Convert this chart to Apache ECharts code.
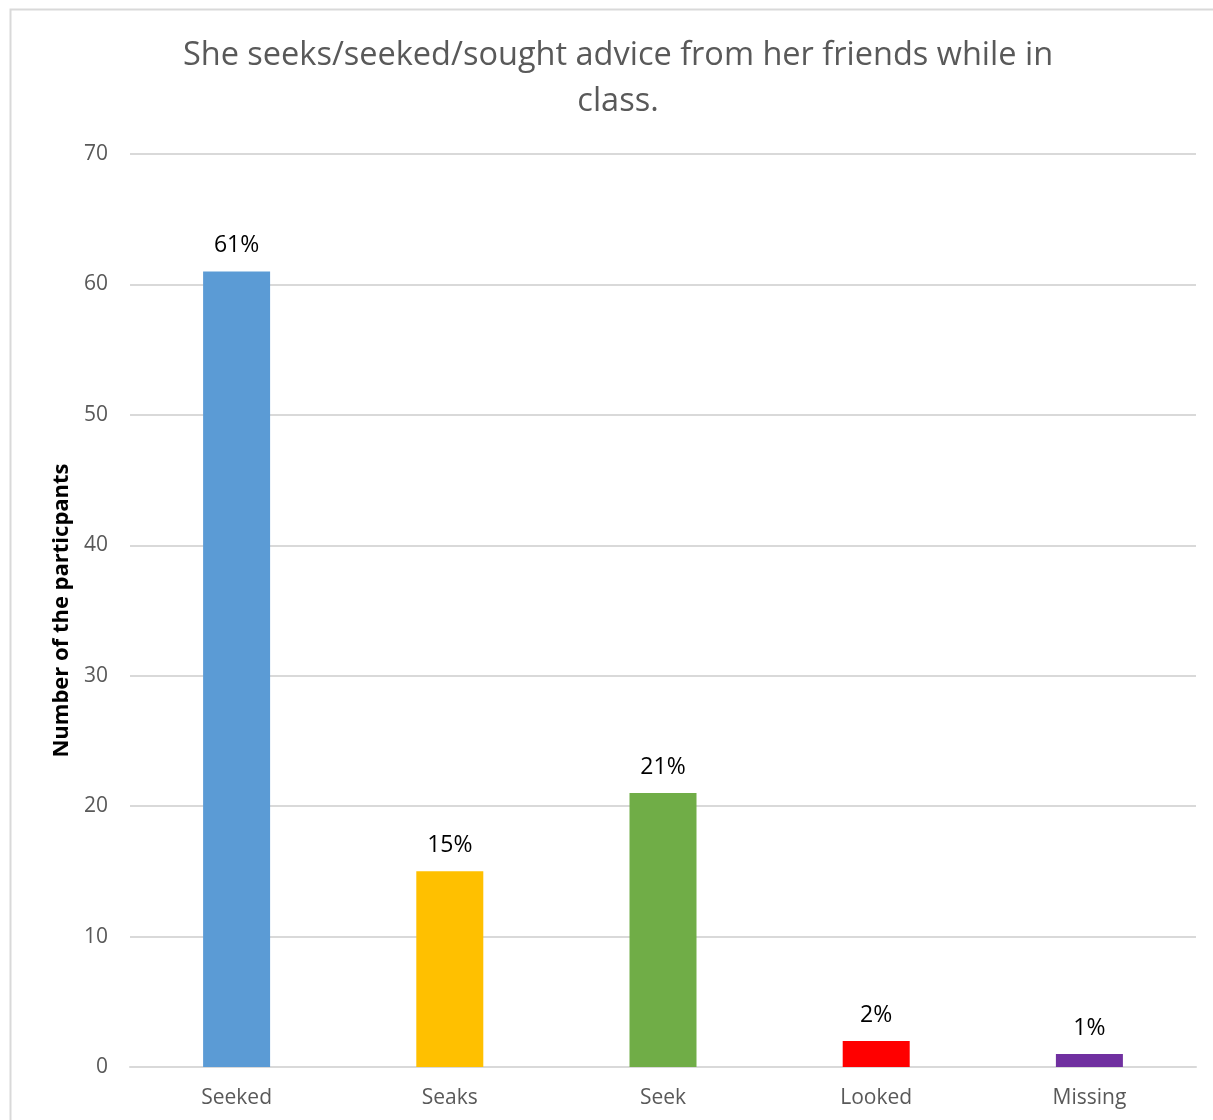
<!DOCTYPE html>
<html>
<head>
<meta charset="utf-8">
<script src="https://cdn.jsdelivr.net/npm/echarts@6/dist/echarts.min.js"></script>
<style>
  html, body { margin: 0; padding: 0; background: #ffffff; }
  #chart { width: 1213px; height: 1120px; }
</style>
</head>
<body>
<div id="chart"></div>
<script>
// Responses to the sentence item
const categories = ['Seeked', 'Seaks', 'Seek', 'Looked', 'Missing'];
const counts = [61, 15, 21, 2, 1];
const percentLabels = ['61%', '15%', '21%', '2%', '1%'];
const barColors = ['#5B9BD5', '#FFC000', '#70AD47', '#FF0000', '#7030A0'];
const yTicks = { min: 0, max: 70, interval: 10 };

const FONT = '"Open Sans", "Noto Sans", sans-serif';

const chart = echarts.init(document.getElementById('chart'), null, { renderer: 'canvas' });

chart.setOption({
  backgroundColor: '#ffffff',
  animation: false,
  graphic: [{
    type: 'rect',
    shape: { x: 10.5, y: 9.5, width: 1230, height: 1140 },
    style: { fill: 'none', stroke: '#d9d9d9', lineWidth: 2 },
    silent: true
  }],
  title: {
    text: 'She seeks/seeked/sought advice from her friends while in\nclass.',
    left: 613,
    top: 28,
    textAlign: 'center',
    textStyle: {
      fontFamily: FONT,
      fontSize: 32.5,
      fontWeight: 'normal',
      color: '#595959',
      lineHeight: 46
    }
  },
  grid: { left: 130, right: 17, top: 154, bottom: 53, containLabel: false },
  xAxis: {
    type: 'category',
    data: categories,
    axisLine: { show: true, lineStyle: { color: '#d9d9d9', width: 2 } },
    axisTick: { show: false },
    axisLabel: { color: '#595959', fontFamily: FONT, fontSize: 21, margin: 21 }
  },
  yAxis: {
    type: 'value',
    min: yTicks.min,
    max: yTicks.max,
    interval: yTicks.interval,
    name: 'Number of the particpants',
    nameLocation: 'middle',
    nameGap: 57,
    nameRotate: 90,
    nameTextStyle: { color: '#000000', fontFamily: FONT, fontSize: 22, fontWeight: 'bold' },
    axisLine: { show: false },
    axisTick: { show: false },
    axisLabel: { color: '#595959', fontFamily: FONT, fontSize: 21, margin: 22 },
    splitLine: { lineStyle: { color: '#d9d9d9', width: 2 } }
  },
  series: [{
    type: 'bar',
    barWidth: 67,
    data: counts.map((v, i) => ({ value: v, itemStyle: { color: barColors[i] } })),
    label: {
      show: true,
      position: 'top',
      distance: 14,
      color: '#000000',
      fontFamily: FONT,
      fontSize: 23,
      formatter: (p) => percentLabels[p.dataIndex]
    }
  }]
});
</script>
</body>
</html>
